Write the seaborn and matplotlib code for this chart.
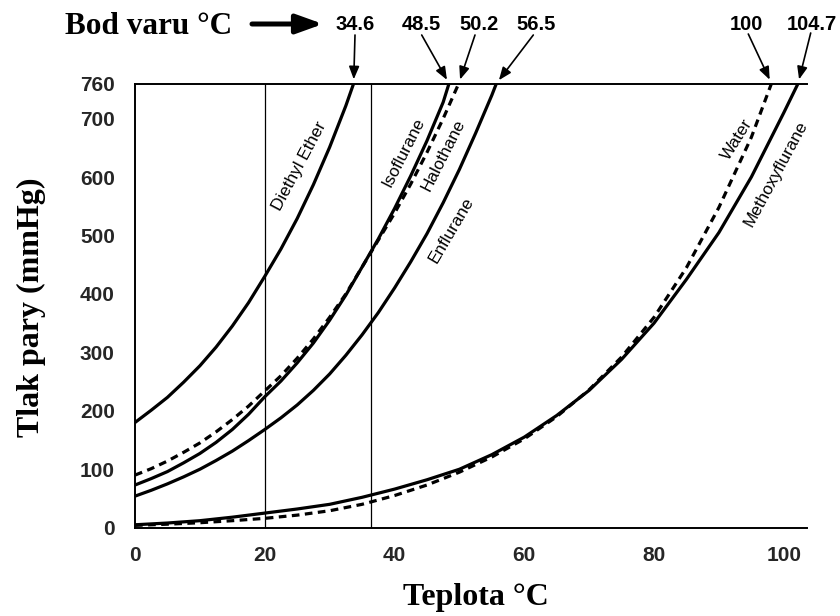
import numpy as np
import pandas as pd
import matplotlib
matplotlib.use("Agg")
import matplotlib.pyplot as plt
import seaborn as sns

# ---- data ----
ether_x = [0, 2.5, 5, 7.5, 10, 12.5, 15, 17.5, 20, 22.5, 25, 27.5, 30, 32.5, 33.7]
ether_y = [180, 201, 223, 249, 277, 309, 345, 385, 430, 477, 529, 587, 651, 722, 760]

iso_x = [0, 2.5, 5, 7.5, 10, 12.5, 15, 17.5, 20, 22.5, 25, 27.5, 30, 32.5, 35, 37.5, 40, 42.5, 45, 47.5, 48.4]
iso_y = [73, 84, 96, 111, 127, 146, 168, 194, 224, 251, 282, 316, 355, 398, 446, 494, 546, 602, 662, 728, 760]

halo_x = [0, 2.5, 5, 7.5, 10, 12.5, 15, 17.5, 20, 22.5, 25, 27.5, 30, 32.5, 35, 37.5, 40, 42.5, 45, 47.5, 49.9]
halo_y = [90, 101, 114, 129, 145, 164, 185, 208, 234, 260, 290, 323, 360, 400, 446, 492, 538, 588, 642, 700, 760]

enfl_x = [0, 2.5, 5, 7.5, 10, 12.5, 15, 17.5, 20, 22.5, 25, 27.5, 30, 32.5, 35, 37.5, 40, 42.5, 45, 47.5, 50, 52.5, 55, 55.7]
enfl_y = [54, 64, 75, 87, 100, 115, 131, 149, 168, 188, 210, 235, 263, 295, 330, 368, 410, 455, 503, 556, 613, 675, 740, 760]

water_x = [0, 5, 10, 15, 20, 25, 30, 35, 40, 45, 50, 55, 60, 65, 70, 75, 80, 85, 90, 95, 98.1]
water_y = [4, 6, 8.5, 12, 16, 21.5, 29, 40, 55, 73, 95, 121, 152, 190, 236, 292, 360, 445, 548, 668, 760]

metho_x = [0, 5, 10, 15, 20, 25, 30, 35, 40, 45, 50, 55, 60, 65, 70, 75, 80, 85, 90, 95, 100, 102.2]
metho_y = [5, 8, 12, 18, 25, 32, 40, 52, 66, 82, 100, 125, 155, 192, 235, 288, 350, 425, 505, 600, 710, 760]

curve_names = ["Diethyl Ether", "Isoflurane", "Halothane", "Enflurane", "Water", "Methoxyflurane"]
boiling_labels = ["34.6", "48.5", "50.2", "56.5", "100", "104.7"]
ref_temps = [20, 36.3]
x_ticks = [0, 20, 40, 60, 80, 100]
y_ticks = [0, 100, 200, 300, 400, 500, 600, 700, 760]

series = [
    (ether_x, ether_y, "solid"),
    (iso_x, iso_y, "solid"),
    (halo_x, halo_y, "dashed"),
    (enfl_x, enfl_y, "solid"),
    (water_x, water_y, "dashed"),
    (metho_x, metho_y, "solid"),
]

# ---- figure ----
sns.set_theme(style="white")
plt.rcParams["font.family"] = ["Liberation Sans", "DejaVu Sans"]

W, H = 840, 616
fig = plt.figure(figsize=(W / 100, H / 100), dpi=100)
L, R, B, T = 135, 806.5, 527.7, 83.5
ax = fig.add_axes([L / W, 1 - B / H, (R - L) / W, (B - T) / H])

for (xs, ys, style), name in zip(series, curve_names):
    df = pd.DataFrame({"x": xs, "y": ys})
    line_kw = dict(color="black", lw=2.3)
    if style == "dashed":
        line_kw["dashes"] = (2.4, 1.7)
    sns.lineplot(data=df, x="x", y="y", ax=ax, **line_kw)

for t in ref_temps:
    ax.plot([t, t], [0, 760], color="black", lw=0.9)

ax.set_xlim(0, 103.5)
ax.set_ylim(0, 760)
ax.set_xticks(x_ticks)
ax.set_yticks(y_ticks)
ax.set_xticklabels([str(v) for v in x_ticks], fontsize=15, fontweight="bold")
ax.set_yticklabels([str(v) for v in y_ticks], fontsize=15, fontweight="bold")
ax.tick_params(axis="both", direction="out", length=7.5, width=1.3, color="black", pad=6)
ax.tick_params(axis="y", pad=7)
ax.set_xlabel("")
ax.set_ylabel("")
for side in ["left", "bottom", "top"]:
    ax.spines[side].set_visible(True)
    ax.spines[side].set_color("black")
    ax.spines[side].set_linewidth(1.4)
ax.spines["right"].set_visible(False)
ax.grid(False)

# curve labels (positions in data coords, rotation in degrees)
label_pos = [(25.4, 619, 62), (41.4, 642, 63), (47.6, 637, 63),
             (48.8, 509, 59.5), (92.8, 665, 58), (98.8, 606, 61.7)]
for name, (lx, ly, rot) in zip(curve_names, label_pos):
    ax.text(lx, ly, name, rotation=rot, rotation_mode="anchor", ha="center", va="center",
            fontsize=12.3, color="black")

# boiling point labels and arrows
label_px = [(355, 24.5), (421.5, 24.5), (479, 24.5), (536.5, 24.5), (746, 24.5), (812, 24.5)]
arrow_start = [(355, 35), (421.7, 35), (475, 35), (533.3, 35), (748.3, 34), (810.7, 33)]
ends = [ether_x[-1], iso_x[-1], halo_x[-1], enfl_x[-1], water_x[-1], metho_x[-1]]
for lab, (tx, ty), (sx, sy), xe in zip(boiling_labels, label_px, arrow_start, ends):
    fig.text(tx / W, 1 - ty / H, lab, ha="center", va="center", fontsize=14.5,
             fontweight="bold", color="black")
    ax.annotate("", xy=(xe, 760), xycoords="data", xytext=(sx, H - sy),
                textcoords="figure pixels",
                arrowprops=dict(arrowstyle="-|>,head_length=0.55,head_width=0.22",
                                color="black", lw=1.2, mutation_scale=14,
                                shrinkA=0, shrinkB=3))

fig.text(149 / W, 1 - 26 / H, "Bod varu °C", ha="center", va="center", fontsize=22.5,
         fontweight="bold", family="Liberation Serif", color="black")
ax.annotate("", xy=(323, H - 24), xycoords="figure pixels", xytext=(252, H - 24),
            textcoords="figure pixels",
            arrowprops=dict(arrowstyle="-|>,head_length=1.0,head_width=0.36",
                            color="black", lw=3.6, mutation_scale=16,
                            shrinkA=0, shrinkB=0))

fig.text(476 / W, 1 - 598 / H, "Teplota °C", ha="center", va="center", fontsize=23,
         fontweight="bold", family="Liberation Serif", color="black")
fig.text(31 / W, 1 - 307 / H, "Tlak pary (mmHg)", ha="center", va="center", fontsize=23,
         fontweight="bold", family="Liberation Serif", rotation=90, color="black")

fig.savefig("out.png", dpi=100)
